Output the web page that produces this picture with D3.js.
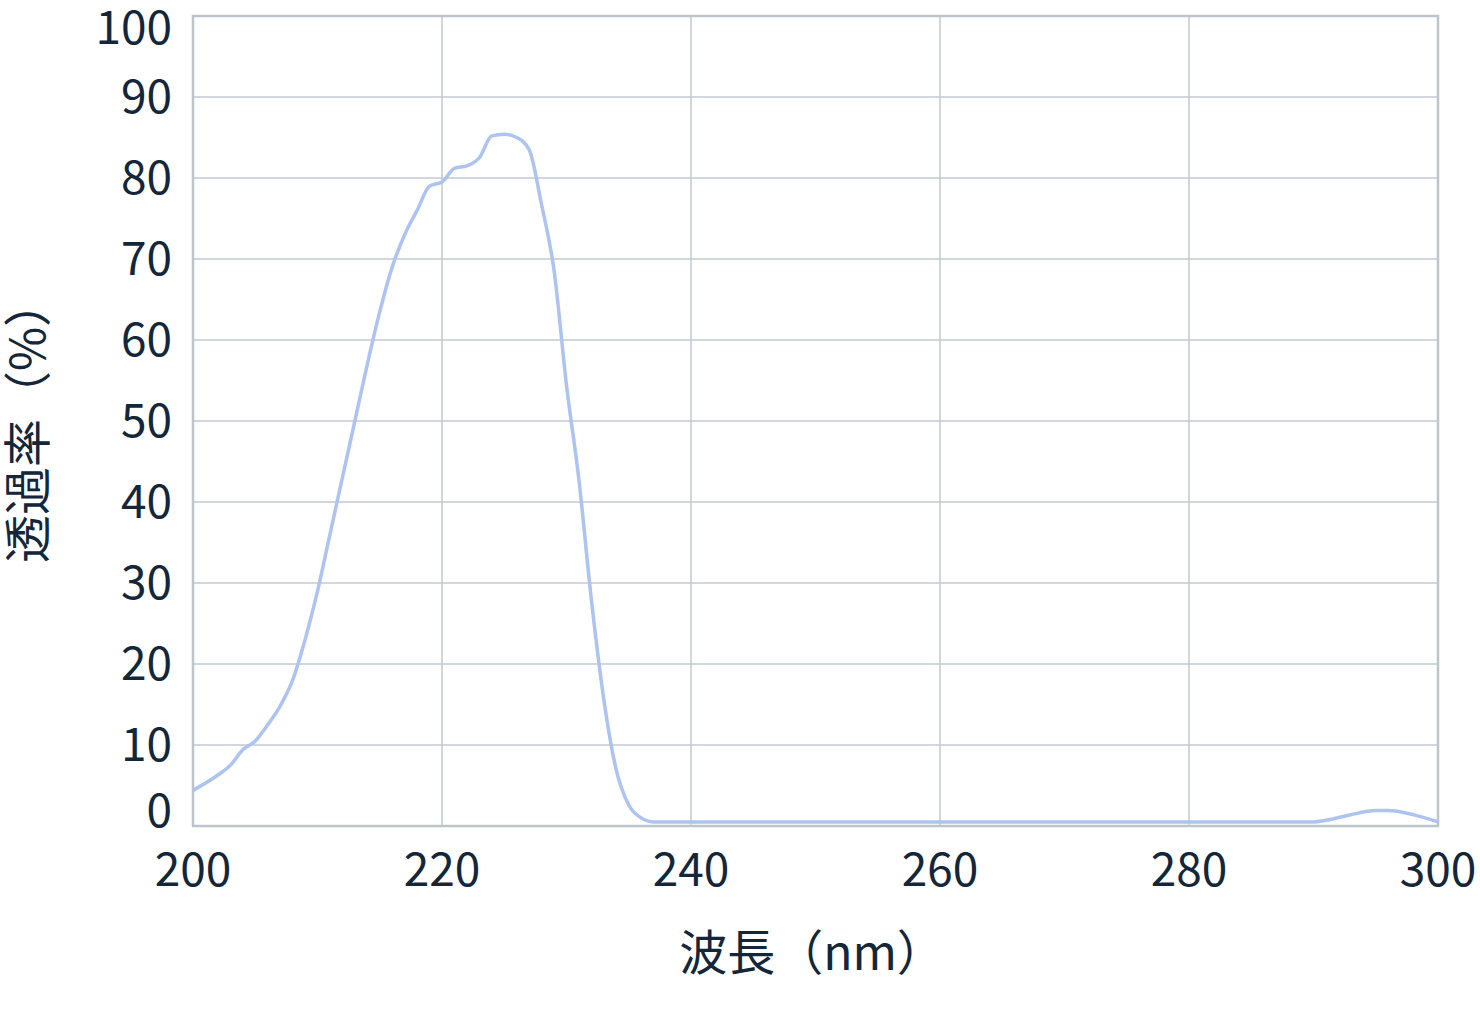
<!DOCTYPE html>
<html><head><meta charset="utf-8">
<script src="https://cdn.jsdelivr.net/npm/d3@7"></script>
<style>body{margin:0;background:#fff}text{font-family:"Noto Sans CJK JP","Noto Sans",sans-serif;fill:#13263a}</style>
</head><body><svg id="c" width="1480" height="1023"></svg>
<script>
const wavelength = [200,202,203,204,205,206,207,208,209,210,211,212,213,214,215,216,217,218,219,220,221,222,223,224,225,226,227,228,229,230,231,232,233,234,235,236,237,250,270,290,291,293,295,296,298,300];
const transmit = [4.4,6.3,7.5,9.4,10.5,12.5,14.8,18,23,29,36,43,50,57,63.5,69,73,76,79,79.5,81.2,81.5,82.5,85.2,85.4,85,83.5,76.7,68.6,54.4,42.7,27.9,15.6,6.9,2.6,1,0.5,0.5,0.5,0.5,0.7,1.4,1.9,1.9,1.4,0.5];
const xTicks = [200,220,240,260,280,300];
const yTicks = [0,10,20,30,40,50,60,70,80,90,100];

const svg = d3.select('#c');
const x = d3.scaleLinear().domain([200,300]).range([193,1438]);
const y = d3.scaleLinear().domain([0,100]).range([826,16]);

svg.append('g').selectAll('line').data(yTicks.slice(1)).enter().append('line')
	.attr('x1',193).attr('x2',1438).attr('y1',d=>y(d)).attr('y2',d=>y(d))
	.attr('stroke','#c3cad2').attr('stroke-width',1.5);
svg.append('g').selectAll('line').data(xTicks.slice(1)).enter().append('line')
	.attr('x1',d=>x(d)).attr('x2',d=>x(d)).attr('y1',16).attr('y2',826)
	.attr('stroke','#c3cad2').attr('stroke-width',1.5);
svg.append('rect').attr('x',193).attr('y',16).attr('width',1245).attr('height',810)
	.attr('fill','none').attr('stroke','#bcc4cc').attr('stroke-width',2.5);

svg.append('g').selectAll('text').data(yTicks).enter().append('text')
	.attr('x',172).attr('y',d=>d===0?y(d)+1:Math.max(y(d)+16,44)).attr('text-anchor','end')
	.attr('font-size',46).text(d=>d);
svg.append('g').selectAll('text').data(xTicks).enter().append('text')
	.attr('x',d=>x(d)).attr('y',886).attr('text-anchor','middle')
	.attr('font-size',46).text(d=>d);

svg.append('text').attr('x',812).attr('y',970).attr('text-anchor','middle')
	.attr('font-size',48).text('波長（nm）');
svg.append('text').attr('transform','translate(45,421) rotate(-90)').attr('text-anchor','middle')
	.attr('font-size',48).text('透過率（%）');

svg.append('path').datum(wavelength.map((w,i)=>[w,transmit[i]]))
	.attr('fill','none').attr('stroke','#adc3f2').attr('stroke-width',3.5)
	.attr('d',d3.line().x(d=>x(d[0])).y(d=>y(d[1])).curve(d3.curveMonotoneX));
</script></body></html>
